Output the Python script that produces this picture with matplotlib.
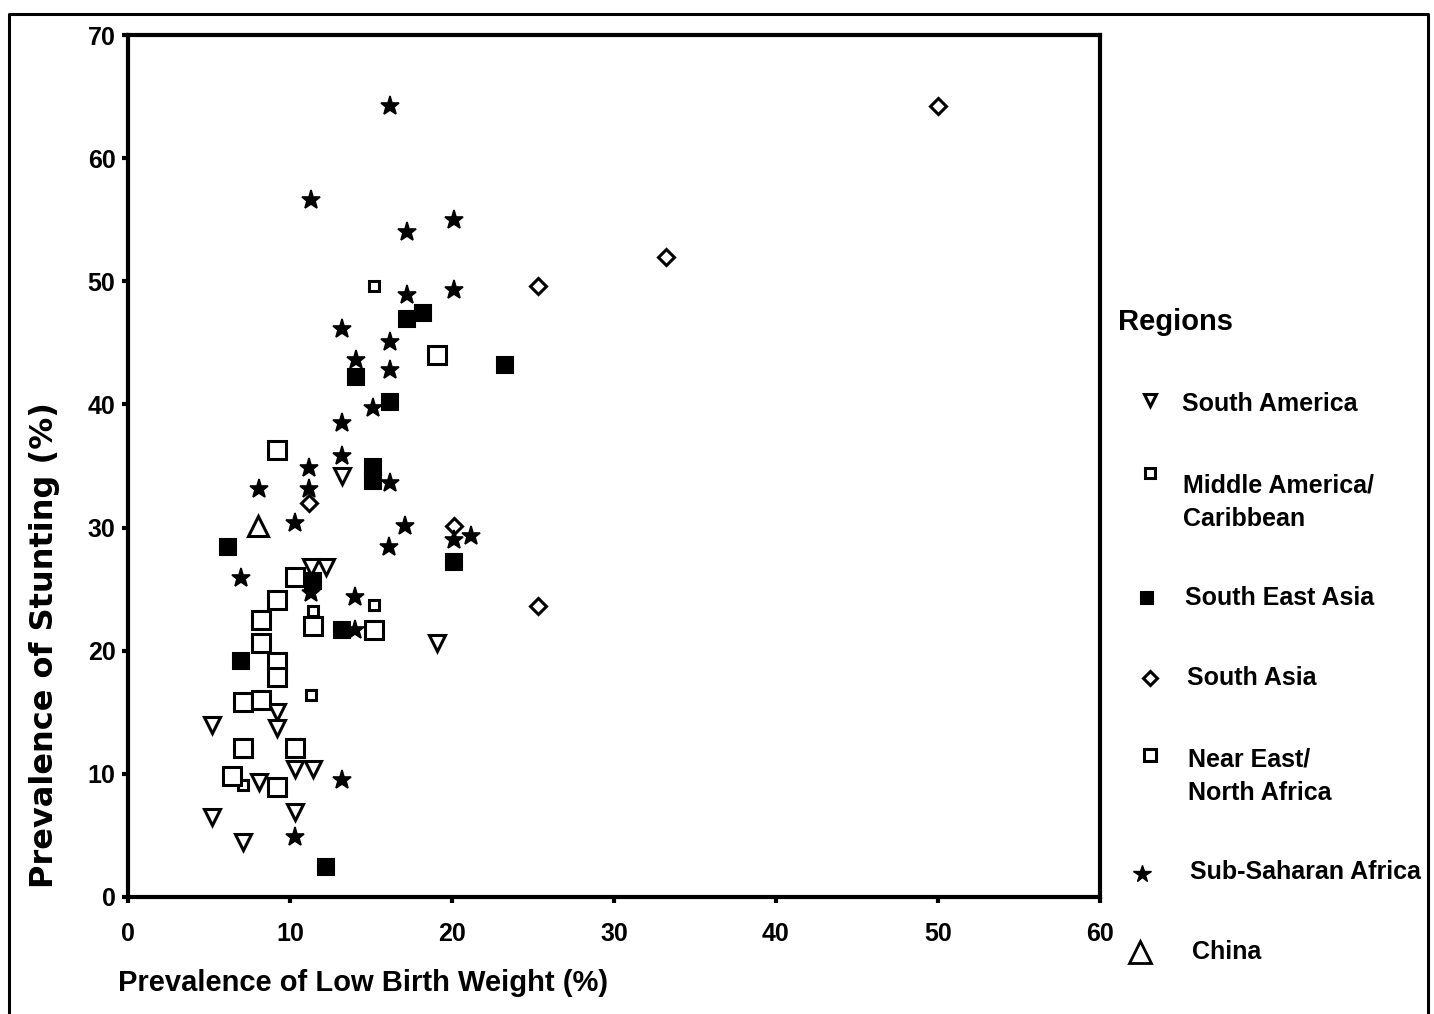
import matplotlib
matplotlib.use("Agg")
import matplotlib.pyplot as plt

# ---- data (Prevalence of Low Birth Weight %, Prevalence of Stunting %) ----
sa_x = [13.2, 12.2, 11.3, 19.1, 9.2, 5.2, 9.2, 10.3, 11.4, 8.1, 5.2, 10.3, 7.1]
sa_y = [34.2, 26.8, 26.8, 20.6, 15.0, 14.0, 13.7, 10.4, 10.4, 9.3, 6.5, 6.9, 4.5]

mac_x = [15.2, 11.4, 15.2, 11.3, 7.1]
mac_y = [49.6, 23.2, 23.7, 16.4, 9.1]

sea_x = [16.2, 15.1, 15.1, 6.2, 20.1, 11.4, 13.2, 7.0, 12.2, 18.2, 17.2, 23.3, 14.1]
sea_y = [40.2, 34.9, 33.8, 28.4, 27.2, 25.7, 21.7, 19.2, 2.4, 47.4, 46.9, 43.2, 42.2]

sas_x = [50.0, 33.2, 25.3, 20.1, 25.3, 11.2]
sas_y = [64.2, 52.0, 49.6, 30.1, 23.6, 32.0]

nena_x = [19.1, 9.2, 10.3, 9.2, 8.2, 11.4, 15.2, 8.2, 9.2, 9.2, 7.1, 8.2, 7.1, 10.3, 6.4, 9.2]
nena_y = [44.0, 36.3, 26.0, 24.1, 22.5, 22.0, 21.7, 20.6, 19.1, 17.9, 15.8, 16.0, 12.1, 12.1, 9.8, 8.9]

ssa_x = [16.2, 11.3, 17.2, 20.1, 17.2, 20.1, 13.2, 16.2, 14.1, 16.2, 15.1, 13.2, 13.2, 11.2,
         11.2, 16.2, 8.1, 10.3, 17.1, 16.1, 20.1, 21.2, 7.0, 11.3, 14.0, 14.0, 13.2, 10.3]
ssa_y = [64.2, 56.6, 54.0, 55.0, 48.9, 49.3, 46.1, 45.1, 43.6, 42.8, 39.7, 38.5, 35.8, 34.8,
         33.1, 33.6, 33.1, 30.4, 30.1, 28.4, 29.0, 29.3, 25.9, 24.7, 24.4, 21.7, 9.5, 4.9]

china_x = [8.0]
china_y = [30.1]

regions = ["South America", "Middle America/\nCaribbean", "South East Asia", "South Asia",
           "Near East/\nNorth Africa", "Sub-Saharan Africa", "China"]

x_ticks = [0, 10, 20, 30, 40, 50, 60]
y_ticks = [0, 10, 20, 30, 40, 50, 60, 70]

# ---- styles ----
styles = [
    dict(marker="v", ms=11, mfc="white", mec="black", mew=2.2),
    dict(marker="s", ms=7.5, mfc="white", mec="black", mew=2.2),
    dict(marker="s", ms=11, mfc="black", mec="black", mew=1.5),
    dict(marker="D", ms=8.5, mfc="white", mec="black", mew=2.2),
    dict(marker="s", ms=12.5, mfc="white", mec="black", mew=2.2),
    dict(marker="*", ms=14, mfc="black", mec="black", mew=1.2),
    dict(marker="^", ms=15, mfc="white", mec="black", mew=2.2),
]
series = [(sa_x, sa_y), (mac_x, mac_y), (sea_x, sea_y), (sas_x, sas_y),
          (nena_x, nena_y), (ssa_x, ssa_y), (china_x, china_y)]

W, H = 1434, 1014
fig = plt.figure(figsize=(W / 100, H / 100), dpi=100)
fig.patch.set_facecolor("white")

fam = ["Liberation Sans", "DejaVu Sans"]

left, right, top, bottom = 128, 1100, 35, 897
ax = fig.add_axes([left / W, 1 - bottom / H, (right - left) / W, (bottom - top) / H])
for (xs, ys), st in zip(series, styles):
    ax.plot(xs, ys, linestyle="none", **st, zorder=3)

ax.set_xlim(0, 60)
ax.set_ylim(0, 70)
ax.set_xticks(x_ticks)
ax.set_yticks(y_ticks)
ax.set_xticklabels([str(t) for t in x_ticks], fontfamily=fam, fontweight="bold", fontsize=18)
ax.set_yticklabels([str(t) for t in y_ticks], fontfamily=fam, fontweight="bold", fontsize=18)
ax.tick_params(direction="out", length=4, width=3)
ax.tick_params(axis="x", pad=14)
ax.tick_params(axis="y", pad=5)
for s in ax.spines.values():
    s.set_linewidth(3)

# ---- overlay in pixel coordinates for labels, legend and outer frame ----
ov = fig.add_axes([0, 0, 1, 1], facecolor="none")
ov.set_xlim(0, W)
ov.set_ylim(H, 0)
ov.axis("off")
ov.plot([9, 9, 1428, 1428], [H, 14, 14, H], color="black", lw=2.2)

ov.text(118, 983, "Prevalence of Low Birth Weight (%)", fontfamily=fam, fontweight="bold",
        fontsize=21, ha="left", va="center")
ov.text(45, 645, "Prevalence of Stunting (%)", fontfamily=["DejaVu Sans"], fontweight="bold",
        fontsize=23, ha="center", va="center", rotation=90)

ov.text(1118, 322, "Regions", fontfamily=fam, fontweight="bold", fontsize=21,
        ha="left", va="center")
leg_my = [400, 473, 598, 678, 755, 874, 952]
leg_text_y = [404, 502, 598, 678, 776, 872, 952]
leg_text_x = [1182, 1183, 1185, 1187, 1188, 1190, 1192]
leg_styles = [
    dict(marker="v", ms=8, mfc="white", mec="black", mew=2.2),
    dict(marker="s", ms=6.5, mfc="white", mec="black", mew=2.2),
    dict(marker="s", ms=8.5, mfc="black", mec="black", mew=1.5),
    dict(marker="D", ms=7.5, mfc="white", mec="black", mew=2.2),
    dict(marker="s", ms=9, mfc="white", mec="black", mew=2.2),
    dict(marker="*", ms=13, mfc="black", mec="black", mew=1.0),
    dict(marker="^", ms=16, mfc="white", mec="black", mew=2.0),
]
leg_mx = [1150, 1150, 1147, 1150, 1150, 1142, 1140]
for i, lab in enumerate(regions):
    ov.plot([leg_mx[i]], [leg_my[i]], linestyle="none", **leg_styles[i])
    ov.text(leg_text_x[i], leg_text_y[i], lab, fontfamily=fam, fontweight="bold",
            fontsize=18, ha="left", va="center", linespacing=1.5)

fig.savefig("out.png", dpi=100, facecolor="white")
